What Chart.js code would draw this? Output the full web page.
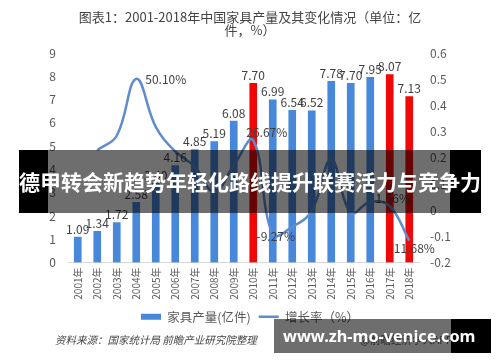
<!DOCTYPE html>
<html>
<head>
<meta charset="utf-8">
<script src="https://cdn.jsdelivr.net/npm/chart.js@4.4.1/dist/chart.umd.min.js"></script>
<style>
body { margin: 0; background: #fff; }
#wrap { position: relative; width: 500px; height: 362px; overflow: hidden; font-family: "Noto Sans CJK SC", sans-serif; }
#myChart { position: absolute; left: 0; top: 0; }
.source { position: absolute; left: 55px; top: 332px; font-size: 10.5px; font-style: italic; color: #444; white-space: nowrap; }
.app { position: absolute; left: 360px; top: 332px; font-size: 10.5px; color: #666; white-space: nowrap; }
.blk { position: absolute; background: #000; }
.shade { position: absolute; background: rgba(0, 0, 0, 0.57); }
.banner-text { position: absolute; left: 19px; top: 150px; width: 462px; height: 63px; line-height: 63px; text-align: center; color: #fff; font-weight: bold; font-size: 21px; white-space: nowrap; }
.site-text { position: absolute; left: 283px; top: 319px; height: 34px; line-height: 34px; color: #fff; font-weight: bold; font-size: 16.3px; font-family: "Noto Sans", sans-serif; white-space: nowrap; }
</style>
</head>
<body>
<div id="wrap">
  <canvas id="myChart" width="500" height="362"></canvas>
  <div class="source">资料来源：国家统计局 前瞻产业研究院整理</div>
  <div class="app">@前瞻经济学人APP</div>

  <div class="blk" style="left:19px;top:150px;width:29px;height:63px;"></div>
  <div class="shade" style="left:48px;top:150px;width:402px;height:63px;"></div>
  <div class="blk" style="left:450px;top:150px;width:31px;height:63px;"></div>
  <div class="banner-text">德甲转会新趋势年轻化路线提升联赛活力与竞争力</div>

  <div class="shade" style="left:274px;top:319px;width:177px;height:34px;"></div>
  <div class="blk" style="left:451px;top:319px;width:40px;height:34px;"></div>
  <div class="site-text">www.zh-mo-venice.com</div>
</div>
<script>
var years = ['2001年', '2002年', '2003年', '2004年', '2005年', '2006年', '2007年', '2008年', '2009年',
             '2010年', '2011年', '2012年', '2013年', '2014年', '2015年', '2016年', '2017年', '2018年'];
// 家具产量 (亿件)
var output = [1.09, 1.34, 1.72, 2.58, 3.40, 4.16, 4.85, 5.19, 6.08,
              7.70, 6.99, 6.54, 6.52, 7.78, 7.70, 7.95, 8.07, 7.13];
// 增长率
var growth = [null, 0.229, 0.284, 0.501, 0.318, 0.224, 0.166, 0.070, 0.171,
              0.2667, -0.0927, -0.064, -0.003, 0.193, -0.010, 0.032, 0.0156, -0.1168];
var redYears = ['2010年', '2017年', '2018年'];
var leftTicks = [0, 9];
var rightTicks = [-0.2, 0.6];

var blue = 'rgb(72, 136, 218)';
var red = 'rgb(240, 8, 8)';
var lineBlue = 'rgb(94, 140, 206)';
var textGrey = '#595959';
var font = '"Noto Sans CJK SC", sans-serif';

// which growth points get a label, and where (offset from the point)
var rateLabels = {
    3: { dx: 9, dy: 1, align: 'left' },
    9: { dx: -7, dy: -8, align: 'left' },
    10: { dx: 3, dy: 2, align: 'center' },
    16: { dx: 3, dy: -8, align: 'center' },
    17: { dx: 3, dy: 8, align: 'center' }
};

const valueLabels = {
    id: 'valueLabels',
    afterDatasetsDraw(chart) {
        const ctx = chart.ctx;
        ctx.save();
        ctx.font = '12px ' + font;
        ctx.fillStyle = '#404040';
        ctx.textBaseline = 'bottom';
        ctx.textAlign = 'center';
        chart.getDatasetMeta(0).data.forEach((bar, i) => {
            ctx.fillText(output[i].toFixed(2), bar.x, bar.y - 2);
        });
        ctx.textBaseline = 'middle';
        const pts = chart.getDatasetMeta(1).data;
        for (const i in rateLabels) {
            const p = pts[i], o = rateLabels[i];
            ctx.textAlign = o.align;
            ctx.fillText((growth[i] * 100).toFixed(2) + '%', p.x + o.dx, p.y + o.dy);
        }
        ctx.restore();
    }
};

const data = {
    labels: years,
    datasets: [
        {
            type: 'bar',
            label: '家具产量(亿件)',
            data: output,
            backgroundColor: years.map(y => redYears.includes(y) ? red : blue),
            barThickness: 7,
            yAxisID: 'y',
            order: 2
        },
        {
            type: 'line',
            label: '增长率（%）',
            data: growth,
            borderColor: lineBlue,
            backgroundColor: lineBlue,
            borderWidth: 2.5,
            pointRadius: 0,
            tension: 0.4,
            yAxisID: 'y1',
            order: 1
        }
    ]
};

const config = {
    data: data,
    options: {
        responsive: false,
        devicePixelRatio: 1,
        animation: false,
        layout: { padding: { top: 4, bottom: 29, left: 0, right: 0 } },
        plugins: {
            title: {
                display: true,
                text: ['图表1：2001-2018年中国家具产量及其变化情况（单位：亿', '件，%）'],
                color: '#444',
                font: { family: font, size: 13, weight: 'normal', lineHeight: 1.0 },
                padding: { top: 7, bottom: 16 }
            },
            legend: {
                position: 'bottom',
                labels: {
                    color: textGrey,
                    font: { family: font, size: 12.5 },
                    usePointStyle: true,
                    pointStyleWidth: 20,
                    boxHeight: 6,
                    padding: 8,
                    generateLabels(chart) {
                        return chart.data.datasets.map((ds, i) => ({
                            text: ds.label,
                            fillStyle: i === 0 ? blue : lineBlue,
                            strokeStyle: i === 0 ? blue : lineBlue,
                            lineWidth: i === 0 ? 0 : 2.5,
                            pointStyle: i === 0 ? 'rect' : 'line',
                            fontColor: textGrey,
                            datasetIndex: i
                        }));
                    }
                }
            },
            tooltip: { enabled: false }
        },
        scales: {
            x: {
                grid: { display: false, drawTicks: false },
                border: { display: true, color: '#d9d9d9' },
                ticks: {
                    color: textGrey,
                    font: { family: font, size: 10 },
                    minRotation: 90,
                    maxRotation: 90,
                    padding: 5
                },
                afterFit(scale) { scale.height = 40; }
            },
            y: {
                position: 'left',
                min: leftTicks[0],
                max: leftTicks[1],
                grid: { display: false, drawTicks: false },
                border: { display: false },
                ticks: { stepSize: 1, color: textGrey, font: { family: font, size: 12 }, padding: 12 },
                afterFit(scale) { scale.width = 68; }
            },
            y1: {
                position: 'right',
                min: rightTicks[0],
                max: rightTicks[1],
                grid: { display: false, drawTicks: false },
                border: { display: false },
                ticks: {
                    stepSize: 0.1,
                    color: textGrey,
                    font: { family: font, size: 12 },
                    padding: 11,
                    callback: v => String(+v.toFixed(1))
                },
                afterFit(scale) { scale.width = 81; }
            }
        }
    },
    plugins: [valueLabels]
};

const myChart = new Chart(document.getElementById('myChart'), config);
</script>
</body>
</html>
